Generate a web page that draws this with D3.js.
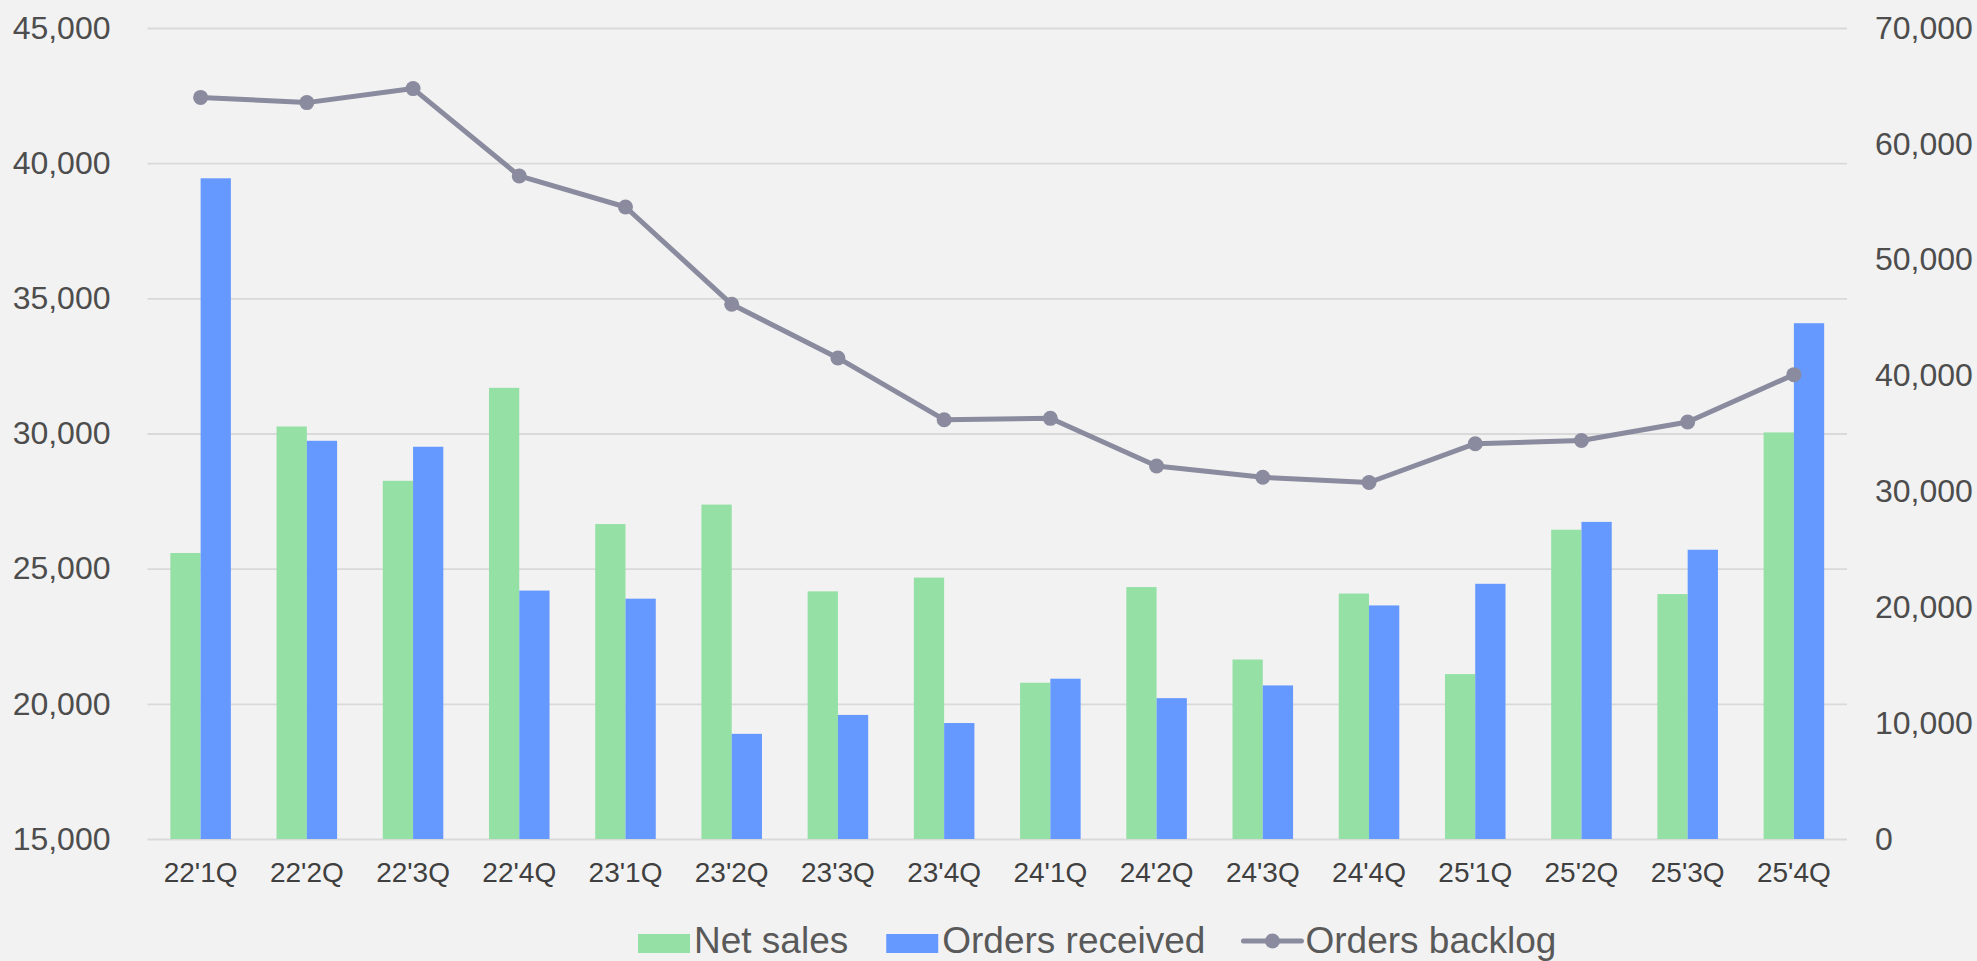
<html>
<head>
<style>
  body { margin: 0; background: #f2f2f2; }
  svg { display: block; }
  text { font-family: "Liberation Sans", Arial, sans-serif; }
</style>
<script src="https://cdn.jsdelivr.net/npm/d3@7"></script>
</head>
<body>
<script>
// quarters
var quarters = ["22'1Q", "22'2Q", "22'3Q", "22'4Q", "23'1Q", "23'2Q", "23'3Q", "23'4Q",
                "24'1Q", "24'2Q", "24'3Q", "24'4Q", "25'1Q", "25'2Q", "25'3Q", "25'4Q"];

// bars (left axis)
var netSales       = [25580, 30260, 28250, 31690, 26650, 27370, 24160, 24670,
                      20780, 24320, 21640, 24080, 21100, 26440, 24060, 30040];
var ordersReceived = [39440, 29730, 29510, 24190, 23890, 18890, 19590, 19290,
                      20930, 20210, 20680, 23640, 24440, 26730, 25700, 34080];

// line (right axis)
var ordersBacklog  = [64010, 63560, 64770, 57230, 54550, 46150, 41520, 36190,
                      36310, 32190, 31220, 30770, 34120, 34390, 35990, 40080];

var leftTicks  = [15000, 20000, 25000, 30000, 35000, 40000, 45000];
var rightTicks = [0, 10000, 20000, 30000, 40000, 50000, 60000, 70000];
var seriesNames = ["Net sales", "Orders received", "Orders backlog"];

var W = 1977, H = 961;
var m = { left: 147.5, right: 130, top: 28, bottom: 122 };
var iw = W - m.left - m.right, ih = H - m.top - m.bottom;

var green = "#95e0a5", blue = "#6699ff", lineCol = "#8a8b9e";

var svg = d3.select("body").append("svg")
  .attr("width", W).attr("height", H);

svg.append("rect").attr("width", W).attr("height", H).attr("fill", "#f2f2f2");

var g = svg.append("g").attr("transform", "translate(" + m.left + "," + m.top + ")");

var x = d3.scaleBand().domain(quarters).range([0, iw]);
var groupW = x.bandwidth() * 0.57;
var x1 = d3.scaleBand().domain([0, 1]).range([0, groupW]);
var yL = d3.scaleLinear().domain([15000, 45000]).range([ih, 0]);
var yR = d3.scaleLinear().domain([0, 70000]).range([ih, 0]);

var fmt = d3.format(",");

// gridlines + left axis
var left = g.append("g")
  .call(d3.axisLeft(yL).tickValues(leftTicks).tickFormat(fmt).tickSize(-iw).tickPadding(37));
left.select(".domain").remove();
left.selectAll("line").attr("stroke", "#d9d9d9").attr("stroke-width", 1.8);
left.selectAll("text").attr("font-size", 32).attr("fill", "#4d4d4d");

// right axis
var right = g.append("g").attr("transform", "translate(" + iw + ",0)")
  .call(d3.axisRight(yR).tickValues(rightTicks).tickFormat(fmt).tickSize(0).tickPadding(28));
right.select(".domain").remove();
right.selectAll("text").attr("font-size", 32).attr("fill", "#4d4d4d");

// bottom labels
var bottom = g.append("g").attr("transform", "translate(0," + ih + ")")
  .call(d3.axisBottom(x).tickSize(0).tickPadding(23.5));
bottom.select(".domain").remove();
bottom.selectAll("text").attr("font-size", 28).attr("fill", "#404040");

// bars
var off = (x.bandwidth() - groupW) / 2;
[netSales, ordersReceived].forEach(function(vals, s) {
  g.append("g").selectAll("rect").data(vals).enter().append("rect")
    .attr("x", function(d, i) { return x(quarters[i]) + off + x1(s); })
    .attr("width", x1.bandwidth())
    .attr("y", function(d) { return yL(d); })
    .attr("height", function(d) { return ih - yL(d); })
    .attr("fill", s === 0 ? green : blue);
});

// backlog line
var cx = function(d, i) { return x(quarters[i]) + x.bandwidth() / 2; };
g.append("path").datum(ordersBacklog)
  .attr("fill", "none").attr("stroke", lineCol).attr("stroke-width", 5)
  .attr("stroke-linejoin", "round")
  .attr("d", d3.line().x(cx).y(function(d) { return yR(d); }));
g.append("g").selectAll("circle").data(ordersBacklog).enter().append("circle")
  .attr("cx", cx).attr("cy", function(d) { return yR(d); })
  .attr("r", 7.5).attr("fill", lineCol);

// legend
var lg = svg.append("g").attr("transform", "translate(638,953)");
var lx = 0;
seriesNames.forEach(function(name, i) {
  var item = lg.append("g").attr("transform", "translate(" + lx + ",0)");
  var sw = 52;
  if (i < 2) {
    item.append("rect").attr("x", 0).attr("y", -19).attr("width", sw).attr("height", 19)
      .attr("fill", i === 0 ? green : blue);
  } else {
    sw = 58;
    item.append("line").attr("x1", 0).attr("x2", sw).attr("y1", -12).attr("y2", -12)
      .attr("stroke", lineCol).attr("stroke-width", 5).attr("stroke-linecap", "round");
    item.append("circle").attr("cx", sw / 2).attr("cy", -12).attr("r", 7.5).attr("fill", lineCol);
  }
  var t = item.append("text").attr("x", sw + 4).attr("y", 0)
    .attr("font-size", 37).attr("fill", "#595959").text(name);
  lx += sw + 4 + t.node().getComputedTextLength() + 38;
});
</script>
</body>
</html>
